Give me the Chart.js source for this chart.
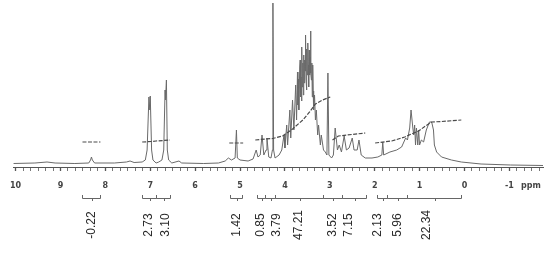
<!DOCTYPE html>
<html>
<head>
<meta charset="utf-8">
<script src="https://cdn.jsdelivr.net/npm/chart.js@4/dist/chart.umd.min.js"></script>
<style>
    html, body { margin: 0; padding: 0; background: #fff; }
    #wrap { width: 550px; height: 253px; position: relative; }
</style>
</head>
<body>
<div id="wrap"><canvas id="nmrChart"></canvas></div>
<script>
// 1H spectrum, chemical shift (ppm) and intensity
const spectrumPpm = [10.05, 9.57, 9.30, 9.12, 8.68, 8.37, 8.33, 8.31, 8.29, 8.24, 7.80, 7.53, 7.45, 7.36,
    7.18, 7.11, 7.07, 7.03, 7.01, 7.00, 6.97, 6.94, 6.87, 6.81, 6.74, 6.70, 6.67, 6.66, 6.64, 6.62, 6.59,
    6.52, 6.36, 6.30, 5.81, 5.48, 5.33, 5.26, 5.19, 5.11, 5.08, 5.06, 5.00, 4.82, 4.71, 4.64, 4.60, 4.55,
    4.51, 4.47, 4.42, 4.40, 4.36, 4.31, 4.278, 4.267, 4.252, 4.22, 4.13, 4.07, 4.02, 4.00, 3.96, 3.94,
    3.89, 3.87, 3.83, 3.80, 3.76, 3.74, 3.72, 3.71, 3.70, 3.69, 3.67, 3.66, 3.65, 3.64, 3.63, 3.62, 3.61,
    3.60, 3.59, 3.58, 3.57, 3.56, 3.55, 3.54, 3.53, 3.52, 3.51, 3.50, 3.49, 3.48, 3.47, 3.46, 3.45, 3.44,
    3.43, 3.42, 3.41, 3.40, 3.39, 3.38, 3.37, 3.36, 3.34, 3.32, 3.30, 3.27, 3.25, 3.21, 3.19, 3.14, 3.10,
    3.064, 3.042, 3.020, 2.96, 2.92, 2.88, 2.83, 2.79, 2.74, 2.68, 2.63, 2.57, 2.50, 2.46, 2.39, 2.35,
    2.30, 2.21, 2.06, 1.93, 1.84, 1.82, 1.80, 1.66, 1.51, 1.40, 1.31, 1.27, 1.22, 1.19, 1.15, 1.13, 1.11,
    1.09, 1.07, 1.04, 1.02, 1.00, 0.96, 0.91, 0.85, 0.78, 0.73, 0.69, 0.67, 0.62, 0.51, 0.29, 0.07,
    -0.37, -1.03, -1.76];
const spectrumIntensity = [3.5, 4, 5, 4, 3.5, 4, 7, 10, 7, 4, 4, 5, 6, 4.5,
    5, 7, 17, 70, 57, 71, 17, 7, 4, 5, 7, 17, 77, 67, 87, 17, 7,
    4, 6, 4, 3.5, 4, 6, 9, 7, 9, 37, 9, 7, 6, 8, 17, 10, 12,
    32, 12, 17, 29, 10, 9, 17, 164, 17, 9, 12, 17, 32, 19, 42, 22,
    57, 29, 67, 37, 82, 47, 95, 62, 88, 57, 100, 107, 70, 90, 66, 120, 80,
    104, 72, 112, 84, 107, 96, 132, 88, 77, 118, 92, 124, 102, 80, 117, 92, 110,
    136, 94, 87, 104, 70, 102, 76, 57, 72, 47, 57, 32, 42, 22, 32, 17, 15,
    12, 94, 12, 9, 12, 39, 17, 22, 15, 31, 17, 19, 29, 17, 17, 27,
    12, 9, 9, 10, 12, 25, 12, 15, 17, 20, 29, 27, 39, 57, 39, 32, 42,
    22, 39, 22, 37, 22, 27, 25, 37, 45, 45, 37, 22, 15, 10, 7, 5,
    3, 2, 1.5];

// integral curve drawn over the spectrum (null = break between regions)
const integralCurvePpm = [8.51, 8.11, 7.6, 7.18, 6.98, 6.87, 6.70, 6.56, 5.9, 5.24, 4.93, 4.8,
    4.66, 4.44, 4.27, 4.05, 3.83, 3.60, 3.45, 3.32, 3.16, 2.99, 2.97, 2.94, 2.81, 2.61, 2.21, 2.1,
    1.99, 1.62, 1.33, 1.18, 1.02, 0.87, 0.73, 0.51, 0.07];
const integralCurveHeight = [25, 25, null, 25, 25.5, 26, 26.5, 27, null, 24, 24, null,
    27, 28, 28.5, 31, 38, 47, 55, 63, 67, 70, null, 27, 31, 32, 34, null,
    24, 26, 30, 33, 36, 41, 45, 45.5, 47];

// integral regions (ppm), values and where the value is written
const integralFrom = [8.51, 7.18, 6.87, 5.22, 4.62, 4.44, 4.22, 3.16, 2.72, 1.95, 1.73, 1.29];
const integralTo = [8.11, 6.87, 6.56, 4.95, 4.44, 4.22, 3.16, 2.72, 2.19, 1.73, 1.29, 0.07];
const integralValues = [-0.22, 2.73, 3.10, 1.42, 0.85, 3.79, 47.21, 3.52, 7.15, 2.13, 5.96, 22.34];
const integralLabelPpm = [8.31, 7.03, 6.65, 5.08, 4.53, 4.18, 3.69, 2.94, 2.59, 1.93, 1.49, 0.85];

const ppmMax = 10.05;
const ppmMin = -1.75;

const spectrumData = spectrumPpm.map((p, i) => ({ x: p, y: spectrumIntensity[i] }));
const integralData = integralCurvePpm.map((p, i) => ({ x: p, y: integralCurveHeight[i] }));

// brackets and rotated values under the axis
const integralPlugin = {
    id: 'integrals',
    afterDraw(chart) {
        const ctx = chart.ctx;
        const xs = chart.scales.x;
        ctx.save();
        ctx.strokeStyle = '#666';
        ctx.lineWidth = 1;
        for (let i = 0; i < integralValues.length; i++) {
            const x1 = Math.round(xs.getPixelForValue(integralFrom[i])) + 0.5;
            const x2 = Math.round(xs.getPixelForValue(integralTo[i])) + 0.5;
            const xm = Math.round((x1 + x2) / 2) + 0.5;
            ctx.beginPath();
            ctx.moveTo(x1, 195);
            ctx.lineTo(x1, 198.5);
            ctx.lineTo(x2, 198.5);
            ctx.lineTo(x2, 195);
            ctx.moveTo(xm, 198.5);
            ctx.lineTo(xm, 201);
            ctx.stroke();
        }
        ctx.fillStyle = '#2a2a2a';
        ctx.font = '12px "Liberation Sans", Arial, sans-serif';
        ctx.textAlign = 'center';
        ctx.textBaseline = 'middle';
        integralValues.forEach((v, i) => {
            const x = xs.getPixelForValue(integralLabelPpm[i]);
            ctx.save();
            ctx.translate(x, 225);
            ctx.rotate(-Math.PI / 2);
            ctx.fillText(v.toFixed(2), 0, 0);
            ctx.restore();
        });
        // unit label at the end of the axis
        ctx.fillStyle = '#444';
        ctx.font = 'bold 8px "DejaVu Sans", sans-serif';
        ctx.fillText('ppm', xs.getPixelForValue(-1.48), 186);
        ctx.restore();
    }
};

const ctx = document.getElementById('nmrChart').getContext('2d');
new Chart(ctx, {
    type: 'line',
    data: {
        datasets: [
            {
                label: 'Integral',
                data: integralData,
                borderColor: '#4a4a4a',
                borderWidth: 1.2,
                borderDash: [4, 1.5],
                pointRadius: 0,
                spanGaps: false,
                tension: 0
            },
            {
                label: 'Spectrum',
                data: spectrumData,
                borderColor: '#6a6a6a',
                borderWidth: 1,
                pointRadius: 0,
                tension: 0
            }
        ]
    },
    options: {
        responsive: true,
        maintainAspectRatio: false,
        animation: false,
        layout: { padding: { left: 8, right: 7, top: 0, bottom: 0 } },
        plugins: {
            legend: { display: false },
            tooltip: { enabled: false }
        },
        scales: {
            x: {
                type: 'linear',
                reverse: true,
                min: ppmMin,
                max: ppmMax,
                afterBuildTicks: scale => {
                    const t = [];
                    for (let k = 60; k >= -10; k--) t.push({ value: k / 6 });
                    scale.ticks = t;
                },
                afterFit: scale => { scale.height = 86; },
                grid: {
                    drawOnChartArea: false,
                    tickLength: 4,
                    color: '#555',
                    tickWidth: c => (Math.abs(c.tick.value - Math.round(c.tick.value)) < 1e-6 ? 1.3 : 0.8)
                },
                border: { display: true, color: '#555', width: 1 },
                ticks: {
                    autoSkip: false,
                    maxRotation: 0,
                    padding: 10,
                    color: '#444',
                    font: { family: 'DejaVu Sans', size: 8, weight: 'bold' },
                    callback: v => (Math.abs(v - Math.round(v)) < 1e-6 ? String(Math.round(v)) : '')
                }
            },
            y: {
                display: false,
                min: 0,
                max: 167
            }
        }
    },
    plugins: [integralPlugin]
});
</script>
</body>
</html>
